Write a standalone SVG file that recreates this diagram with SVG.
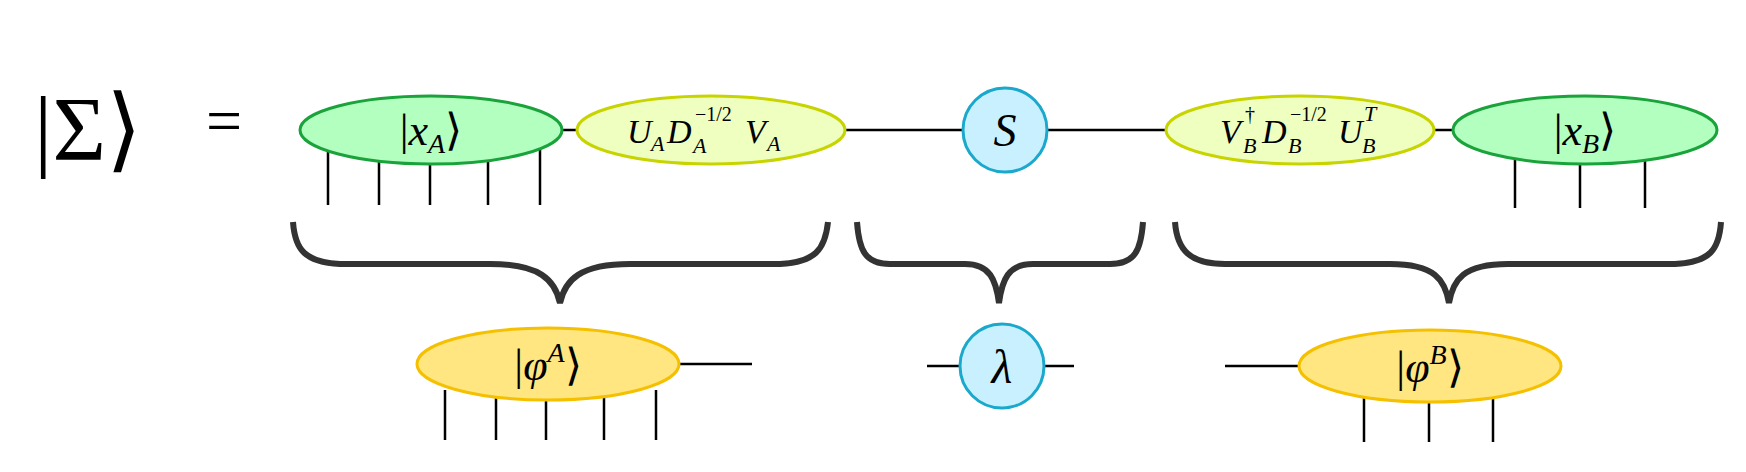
<svg xmlns="http://www.w3.org/2000/svg" width="1746" height="472" viewBox="0 0 1746 472">
<style>
.g{fill:#b3ffc0;stroke:#1aa33a;stroke-width:3}
.y{fill:#eeffc0;stroke:#c8d400;stroke-width:3}
.c{fill:#c8f0ff;stroke:#1aa8cc;stroke-width:3}
.o{fill:#ffe680;stroke:#f5c000;stroke-width:3}
.l{stroke:#000;stroke-width:2.5;fill:none}
.b{stroke:#333;stroke-width:6;fill:none}
text{font-family:"Liberation Serif",serif;font-style:italic;fill:#000;text-anchor:middle}
.u{font-style:normal}
.m text{text-anchor:start;font-size:34px}
.m .s{font-size:22px}
.m .n{font-size:20px;font-style:normal}
</style>
<g id="connectors">
<line class="l" x1="562" y1="130" x2="1455" y2="130"/>
<path class="l" d="M328 145V205M379 150V205M430 152V205M488 150V205M540 145V205"/>
<path class="l" d="M1515 155V208M1580 162V208M1645 155V208"/>
<line class="l" x1="679" y1="364" x2="752" y2="364"/>
<line class="l" x1="927" y1="366" x2="1074" y2="366"/>
<line class="l" x1="1225" y1="366" x2="1298" y2="366"/>
<path class="l" d="M445 390V440M496 396V440M546 400V440M604 396V440M656 390V440"/>
<path class="l" d="M1364 395V442M1429 400V442M1493 395V442"/>
</g>
<g id="braces">
<path class="b" d="M293 222C295 250 305 262 340 264H490C540 264 555 280 560 303C565 280 580 264 630 264H780C815 262 825 250 828 222"/>
<path class="b" d="M857 222C859 250 865 264 890 264H965C990 264 996 280 999 303C1002 280 1008 264 1033 264H1110C1135 264 1141 250 1143 222"/>
<path class="b" d="M1175 222C1177 250 1190 264 1225 264H1390C1435 264 1445 280 1449 303C1453 280 1463 264 1508 264H1675C1710 262 1719 250 1721 222"/>
</g>
<g id="lhs"><text x="88" y="160" font-size="92" class="u">|Σ⟩</text><text x="224" y="142" font-size="64" class="u">=</text></g>
<g id="xA"><ellipse class="g" cx="431" cy="130" rx="131" ry="34"/><text x="431" y="145" font-size="44" class="u">|<tspan font-style="italic">x</tspan><tspan font-style="italic" font-size="28" dy="8">A</tspan><tspan dy="-8">⟩</tspan></text></g>
<g id="UDV" class="m"><ellipse class="y" cx="711" cy="130" rx="134" ry="34"/>
<text x="627" y="143">U</text><text class="s" x="651" y="151">A</text><text x="667" y="143">D</text><text class="n" x="695" y="121">−1/2</text><text class="s" x="693" y="153">A</text><text x="745" y="143">V</text><text class="s" x="767" y="151">A</text></g>
<g id="S"><circle class="c" cx="1005" cy="130" r="42"/><text x="1005" y="146" font-size="46">S</text></g>
<g id="VDU" class="m"><ellipse class="y" cx="1300" cy="130" rx="134" ry="34"/>
<text x="1220" y="143">V</text><text class="n" x="1245" y="121">†</text><text class="s" x="1243" y="153">B</text><text x="1262" y="143">D</text><text class="n" x="1290" y="121">−1/2</text><text class="s" x="1288" y="153">B</text><text x="1338" y="143">U</text><text class="s" x="1364" y="121">T</text><text class="s" x="1362" y="153">B</text></g>
<g id="xB"><ellipse class="g" cx="1585" cy="130" rx="132" ry="34"/><text x="1585" y="145" font-size="44" class="u">|<tspan font-style="italic">x</tspan><tspan font-style="italic" font-size="28" dy="8">B</tspan><tspan dy="-8">⟩</tspan></text></g>
<g id="phiA"><ellipse class="o" cx="548" cy="364" rx="131" ry="36"/><text x="548" y="380" font-size="44" class="u">|<tspan font-style="italic">φ</tspan><tspan font-style="italic" font-size="28" dy="-18">A</tspan><tspan dy="18">⟩</tspan></text></g>
<g id="lambda"><circle class="c" cx="1002" cy="366" r="42"/><text x="1002" y="383" font-size="48">λ</text></g>
<g id="phiB"><ellipse class="o" cx="1430" cy="366" rx="131" ry="36"/><text x="1430" y="382" font-size="44" class="u">|<tspan font-style="italic">φ</tspan><tspan font-style="italic" font-size="28" dy="-18">B</tspan><tspan dy="18">⟩</tspan></text></g>
</svg>
